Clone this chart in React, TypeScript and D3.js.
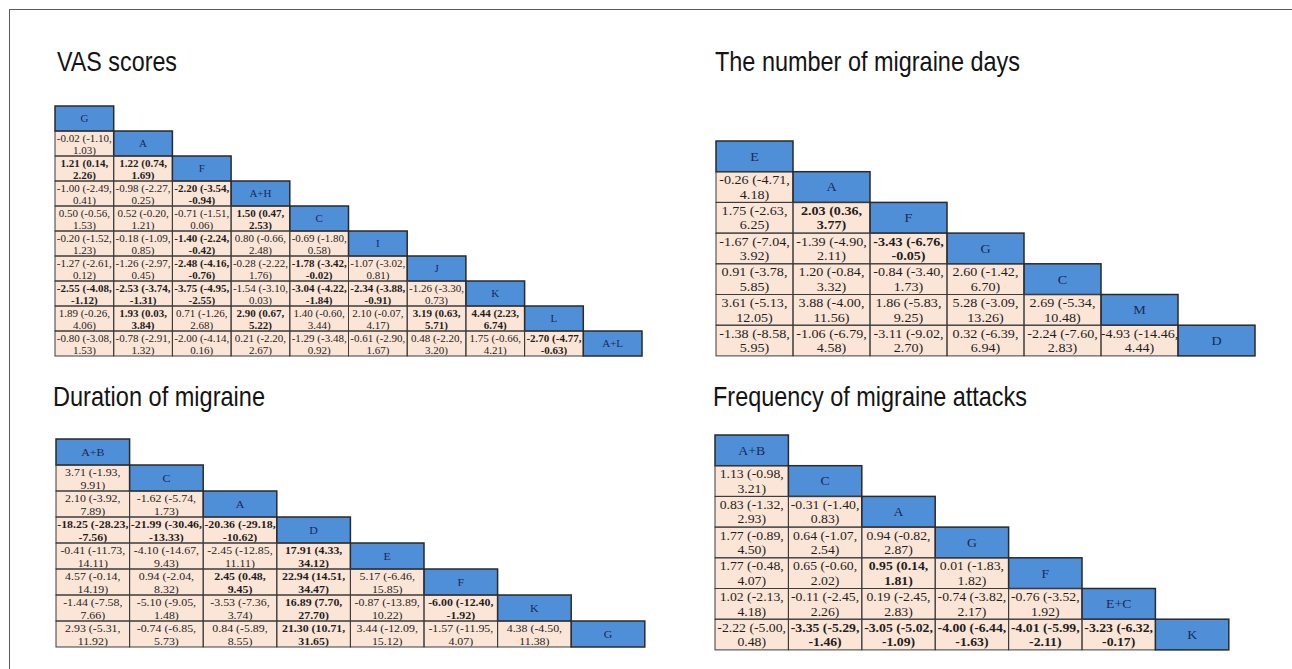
import React from "react";
import * as d3 from "d3";

// Each effect is [estimate, lower 95% limit, upper 95% limit]
type Effect = [number, number, number];

// ---- VAS scores ----
const vasTreatments = ["G", "A", "F", "A+H", "C", "I", "J", "K", "L", "A+L"];
const vasEffects: Effect[][] = [
  [],
  [[-0.02, -1.10, 1.03]],
  [[1.21, 0.14, 2.26], [1.22, 0.74, 1.69]],
  [[-1.00, -2.49, 0.41], [-0.98, -2.27, 0.25], [-2.20, -3.54, -0.94]],
  [[0.50, -0.56, 1.53], [0.52, -0.20, 1.21], [-0.71, -1.51, 0.06], [1.50, 0.47, 2.53]],
  [[-0.20, -1.52, 1.23], [-0.18, -1.09, 0.85], [-1.40, -2.24, -0.42], [0.80, -0.66, 2.48], [-0.69, -1.80, 0.58]],
  [[-1.27, -2.61, 0.12], [-1.26, -2.97, 0.45], [-2.48, -4.16, -0.76], [-0.28, -2.22, 1.76], [-1.78, -3.42, -0.02], [-1.07, -3.02, 0.81]],
  [[-2.55, -4.08, -1.12], [-2.53, -3.74, -1.31], [-3.75, -4.95, -2.55], [-1.54, -3.10, 0.03], [-3.04, -4.22, -1.84], [-2.34, -3.88, -0.91], [-1.26, -3.30, 0.73]],
  [[1.89, -0.26, 4.06], [1.93, 0.03, 3.84], [0.71, -1.26, 2.68], [2.90, 0.67, 5.22], [1.40, -0.60, 3.44], [2.10, -0.07, 4.17], [3.19, 0.63, 5.71], [4.44, 2.23, 6.74]],
  [[-0.80, -3.08, 1.53], [-0.78, -2.91, 1.32], [-2.00, -4.14, 0.16], [0.21, -2.20, 2.67], [-1.29, -3.48, 0.92], [-0.61, -2.90, 1.67], [0.48, -2.20, 3.20], [1.75, -0.66, 4.21], [-2.70, -4.77, -0.63]],
];

// ---- The number of migraine days ----
const daysTreatments = ["E", "A", "F", "G", "C", "M", "D"];
const daysEffects: Effect[][] = [
  [],
  [[-0.26, -4.71, 4.18]],
  [[1.75, -2.63, 6.25], [2.03, 0.36, 3.77]],
  [[-1.67, -7.04, 3.92], [-1.39, -4.90, 2.11], [-3.43, -6.76, -0.05]],
  [[0.91, -3.78, 5.85], [1.20, -0.84, 3.32], [-0.84, -3.40, 1.73], [2.60, -1.42, 6.70]],
  [[3.61, -5.13, 12.05], [3.88, -4.00, 11.56], [1.86, -5.83, 9.25], [5.28, -3.09, 13.26], [2.69, -5.34, 10.48]],
  [[-1.38, -8.58, 5.95], [-1.06, -6.79, 4.58], [-3.11, -9.02, 2.70], [0.32, -6.39, 6.94], [-2.24, -7.60, 2.83], [-4.93, -14.46, 4.44]],
];

// ---- Duration of migraine ----
const durationTreatments = ["A+B", "C", "A", "D", "E", "F", "K", "G"];
const durationEffects: Effect[][] = [
  [],
  [[3.71, -1.93, 9.91]],
  [[2.10, -3.92, 7.89], [-1.62, -5.74, 1.73]],
  [[-18.25, -28.23, -7.56], [-21.99, -30.46, -13.33], [-20.36, -29.18, -10.62]],
  [[-0.41, -11.73, 14.11], [-4.10, -14.67, 9.43], [-2.45, -12.85, 11.11], [17.91, 4.33, 34.12]],
  [[4.57, -0.14, 14.19], [0.94, -2.04, 8.32], [2.45, 0.48, 9.45], [22.94, 14.51, 34.47], [5.17, -6.46, 15.85]],
  [[-1.44, -7.58, 7.66], [-5.10, -9.05, 1.48], [-3.53, -7.36, 3.74], [16.89, 7.70, 27.70], [-0.87, -13.89, 10.22], [-6.00, -12.40, -1.92]],
  [[2.93, -5.31, 11.92], [-0.74, -6.85, 5.73], [0.84, -5.89, 8.55], [21.30, 10.71, 31.65], [3.44, -12.09, 15.12], [-1.57, -11.95, 4.07], [4.38, -4.50, 11.38]],
];

// ---- Frequency of migraine attacks ----
const frequencyTreatments = ["A+B", "C", "A", "G", "F", "E+C", "K"];
const frequencyEffects: Effect[][] = [
  [],
  [[1.13, -0.98, 3.21]],
  [[0.83, -1.32, 2.93], [-0.31, -1.40, 0.83]],
  [[1.77, -0.89, 4.50], [0.64, -1.07, 2.54], [0.94, -0.82, 2.87]],
  [[1.77, -0.48, 4.07], [0.65, -0.60, 2.02], [0.95, 0.14, 1.81], [0.01, -1.83, 1.82]],
  [[1.02, -2.13, 4.18], [-0.11, -2.45, 2.26], [0.19, -2.45, 2.83], [-0.74, -3.82, 2.17], [-0.76, -3.52, 1.92]],
  [[-2.22, -5.00, 0.48], [-3.35, -5.29, -1.46], [-3.05, -5.02, -1.09], [-4.00, -6.44, -1.63], [-4.01, -5.99, -2.11], [-3.23, -6.32, -0.17]],
];

interface TableSpec {
  id: string;
  title: string;
  titleX: number;
  titleY: number;
  titleWidth: number;
  treatments: string[];
  effects: Effect[][];
  x0: number;
  y0: number;
  colW: number;
  rowH: number;
  font: number;
  sx: number;
  b1: number;
  b2: number;
}

const tables: TableSpec[] = [
  {
    id: "vas", title: "VAS scores", titleX: 57, titleY: 71, titleWidth: 120,
    treatments: vasTreatments, effects: vasEffects,
    x0: 55, y0: 106, colW: 58.7, rowH: 25, font: 11, sx: 1.0, b1: 10.5, b2: 22.5,
  },
  {
    id: "days", title: "The number of migraine days", titleX: 715, titleY: 71, titleWidth: 305,
    treatments: daysTreatments, effects: daysEffects,
    x0: 716, y0: 141, colW: 77, rowH: 30.7, font: 12.5, sx: 1.13, b1: 12.5, b2: 27,
  },
  {
    id: "duration", title: "Duration of migraine", titleX: 53, titleY: 406, titleWidth: 212,
    treatments: durationTreatments, effects: durationEffects,
    x0: 56, y0: 439, colW: 73.6, rowH: 26, font: 11, sx: 1.08, b1: 11, b2: 23.5,
  },
  {
    id: "frequency", title: "Frequency of migraine attacks", titleX: 713, titleY: 406, titleWidth: 314,
    treatments: frequencyTreatments, effects: frequencyEffects,
    x0: 715, y0: 435, colW: 73.4, rowH: 30.7, font: 12.5, sx: 1.1, b1: 12.5, b2: 27,
  },
];

const HEADER_FILL = "#4f8fd8";
const CELL_FILL = "#fbe5d6";
const SERIF = "'Liberation Serif', 'Times New Roman', serif";
const SANS = "'Liberation Sans', Arial, sans-serif";

const num = (v: number) => v.toFixed(2);

function LeagueTable({ spec }: { spec: TableSpec }) {
  const n = spec.treatments.length;
  const idx = d3.range(n);
  const xs = d3.scaleBand<number>().domain(idx).range([spec.x0, spec.x0 + n * spec.colW]);
  const ys = d3.scaleBand<number>().domain(idx).range([spec.y0, spec.y0 + n * spec.rowH]);
  const w = xs.bandwidth();
  const h = ys.bandwidth();
  const clipId = `clip-${spec.id}`;

  const cells: React.ReactNode[] = [];
  const borders: React.ReactNode[] = [];

  idx.forEach((r) => {
    const y = ys(r)!;
    spec.effects[r].forEach((e, c) => {
      const x = xs(c)!;
      const [est, lo, hi] = e;
      const significant = lo * hi > 0;
      const cx = x + w / 2;
      cells.push(
        <g key={`c-${r}-${c}`}>
          <rect x={x} y={y} width={w} height={h} fill={CELL_FILL} />
          <text
            transform={`translate(${cx},${y + spec.b1}) scale(${spec.sx},1)`}
            textAnchor="middle"
            fontFamily={SERIF}
            fontSize={spec.font}
            fontWeight={significant ? "bold" : "normal"}
            fill="#1e1e1e"
          >
            {`${num(est)} (${num(lo)},`}
          </text>
          <text
            transform={`translate(${cx},${y + spec.b2}) scale(${spec.sx},1)`}
            textAnchor="middle"
            fontFamily={SERIF}
            fontSize={spec.font}
            fontWeight={significant ? "bold" : "normal"}
            fill="#1e1e1e"
          >
            {`${num(hi)})`}
          </text>
        </g>
      );
      borders.push(
        <rect key={`b-${r}-${c}`} x={x} y={y} width={w} height={h}
          fill="none" stroke="#3c3c3c" strokeWidth={1} />
      );
    });
    const hx = xs(r)!;
    cells.push(
      <g key={`h-${r}`}>
        <rect x={hx} y={y} width={w} height={h} fill={HEADER_FILL} />
        <text
          transform={`translate(${hx + w / 2},${y + h / 2 + spec.font * 0.35}) scale(${spec.sx},1)`}
          textAnchor="middle"
          fontFamily={SERIF}
          fontSize={spec.font}
          fill="#1b2a55"
        >
          {spec.treatments[r]}
        </text>
      </g>
    );
    borders.push(
      <rect key={`hb-${r}`} x={hx} y={y} width={w} height={h}
        fill="none" stroke="#2a2a2a" strokeWidth={1.5} />
    );
  });

  return (
    <g>
      <text
        x={spec.titleX}
        y={spec.titleY}
        fontFamily={SANS}
        fontSize={28}
        textLength={spec.titleWidth}
        lengthAdjust="spacingAndGlyphs"
        fill="#141414"
      >
        {spec.title}
      </text>
      <clipPath id={clipId}>
        <rect x={spec.x0} y={spec.y0} width={n * spec.colW} height={n * spec.rowH} />
      </clipPath>
      <g clipPath={`url(#${clipId})`}>{cells}</g>
      <g>{borders}</g>
    </g>
  );
}

export default function App() {
  return (
    <svg
      width={1292}
      height={669}
      style={{ position: "absolute", left: 0, top: 0, background: "#ffffff" }}
    >
      <rect x={0} y={0} width={1292} height={669} fill="#ffffff" />
      <rect x={9.5} y={9.5} width={1300} height={700} fill="none" stroke="#5a5a5a" strokeWidth={1} />
      {tables.map((t) => (
        <LeagueTable key={t.id} spec={t} />
      ))}
    </svg>
  );
}
